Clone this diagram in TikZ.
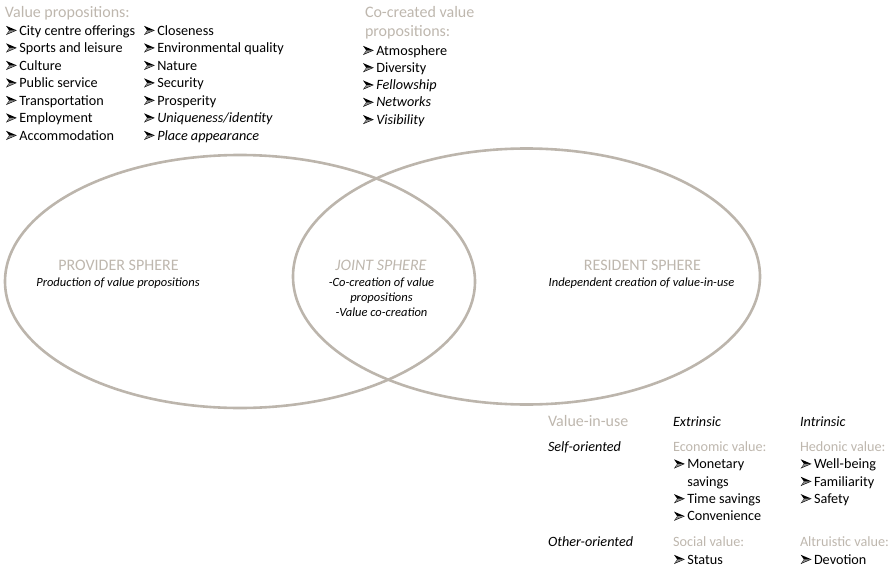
\documentclass[tikz,border=0pt]{standalone}
\usepackage{fontspec}
\setmainfont{Carlito}
\definecolor{headc}{RGB}{190,183,174}
\definecolor{ringc}{RGB}{188,181,172}
\newcommand{\arrhd}{\tikz[baseline=0pt, x=1pt, y=1pt]{\fill[black] (0,0) -- (10.8,4.6) -- (0,9.2) -- (3.2,4.6) -- cycle; \fill[black!45] (3.6,4.6) -- (9.6,4.6) -- (1.2,1.2) -- cycle;}}
\newcommand{\itm}[1]{\makebox[13.3pt][l]{\arrhd}#1}
\tikzset{
  lbl/.style={inner sep=0pt, outer sep=0pt, anchor=base west, font=\fontsize{14.2}{17}\selectfont},
  hd/.style={lbl, text=headc, font=\fontsize{16}{19}\selectfont},
  sub/.style={lbl, text=headc},
  sph/.style={inner sep=0pt, outer sep=0pt, anchor=base, text=headc, font=\fontsize{16}{19}\selectfont},
  sphtxt/.style={inner sep=0pt, outer sep=0pt, anchor=base, font=\fontsize{12.5}{15}\selectfont\itshape},
  ring/.style={draw=ringc, line width=2.6pt}
}
\begin{document}
\begin{tikzpicture}[x=1pt,y=-1pt]
\useasboundingbox (0,0) rectangle (895,570);
% spheres
\draw[ring] (240,281.5) ellipse [x radius=235pt, y radius=126.5pt];
\draw[ring] (526.5,276.5) ellipse [x radius=233.5pt, y radius=128pt];
% value propositions
\node[hd] (vp) at (5,17.2) {Value propositions:};
\foreach \t [count=\i from 0] in {City centre offerings, Sports and leisure, Culture, Public service, Transportation, Employment, Accommodation}
  \node[lbl] (a\i) at (6,35+17.5*\i) {\itm{\t}};
\foreach \t [count=\i from 0] in {Closeness, Environmental quality, Nature, Security, Prosperity, {\textit{Uniqueness/identity}}, {\textit{Place appearance}}}
  \node[lbl] (b\i) at (144,35+17.5*\i) {\itm{\t}};
% co-created
\node[hd] (cc1) at (365,17.5) {Co-created value};
\node[hd] (cc2) at (365,36.5) {propositions:};
\foreach \t [count=\i from 0] in {Atmosphere, Diversity, {\textit{Fellowship}}, {\textit{Networks}}, {\textit{Visibility}}}
  \node[lbl] (c\i) at (363,55+17.3*\i) {\itm{\t}};
% sphere labels
\node[sph] (ps) at (118.5,270.7) {PROVIDER SPHERE};
\node[sphtxt] (pst) at (118,286.7) {Production of value propositions};
\node[sph, font=\fontsize{16}{19}\selectfont\itshape] (js) at (381,270.7) {JOINT SPHERE};
\node[sphtxt] (js1) at (381.5,286.7) {-Co-creation of value};
\node[sphtxt] (js2) at (381.5,301.7) {propositions};
\node[sphtxt] (js3) at (381.5,316.2) {-Value co-creation};
\node[sph] (rs) at (642.5,270.7) {RESIDENT SPHERE};
\node[sphtxt] (rst) at (641.5,286.7) {Independent creation of value-in-use};
% value-in-use table
\node[hd] (viu) at (548,426) {Value-in-use};
\node[lbl, font=\fontsize{14.2}{17}\selectfont\itshape] (ext) at (673,426) {Extrinsic};
\node[lbl, font=\fontsize{14.2}{17}\selectfont\itshape] (int) at (800,426) {Intrinsic};
\node[lbl, font=\fontsize{14.2}{17}\selectfont\itshape] (so) at (548,451.7) {Self-oriented};
\node[sub] (eco) at (673,451.7) {Economic value:};
\node[sub] (hed) at (800,451.7) {Hedonic value:};
\node[lbl] (e1) at (674,468.5) {\itm{Monetary}};
\node[lbl] (e1b) at (687.3,486) {savings};
\node[lbl] (e2) at (674,503.3) {\itm{Time savings}};
\node[lbl] (e3) at (674,520.8) {\itm{Convenience}};
\node[lbl] (h1) at (800.7,468.5) {\itm{Well-being}};
\node[lbl] (h2) at (800.7,486) {\itm{Familiarity}};
\node[lbl] (h3) at (800.7,503.3) {\itm{Safety}};
\node[lbl, font=\fontsize{14.2}{17}\selectfont\itshape] (oo) at (548,546.7) {Other-oriented};
\node[sub] (soc) at (673,546.7) {Social value:};
\node[sub] (alt) at (800,546.7) {Altruistic value:};
\node[lbl] (s1) at (674,564) {\itm{Status}};
\node[lbl] (a1x) at (800.7,564) {\itm{Devotion}};
\end{tikzpicture}
\end{document}
